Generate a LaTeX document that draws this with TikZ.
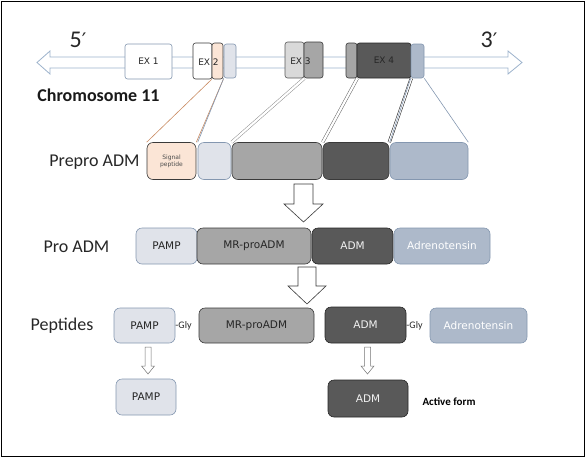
\documentclass[tikz,border=0pt]{standalone}
\usepackage{fontspec}
\setmainfont{Carlito}
\newfontfamily\boxfont{DejaVu Sans}
\usepackage{tikz}
\usetikzlibrary{backgrounds}

\definecolor{peach}{HTML}{FBE5D6}
\definecolor{paleblue}{HTML}{E0E3EA}
\definecolor{midgray}{HTML}{A6A6A6}
\definecolor{darkgray}{HTML}{595959}
\definecolor{steel}{HTML}{ADB9CA}
\definecolor{steelline}{HTML}{8497B0}
\definecolor{geneline}{HTML}{9DB3CC}
\definecolor{edgedark}{HTML}{3A3A3A}
\definecolor{txtdark}{HTML}{262626}
\definecolor{orangeline}{HTML}{C98B62}

\begin{document}
\begin{tikzpicture}[x=1pt,y=-1pt,
  exon/.style={draw=edgedark, rounded corners=2.5pt, inner sep=0pt, line width=0.6pt,
    font=\boxfont\fontsize{9}{10}\selectfont, text=txtdark},
  part/.style={draw=edgedark, rounded corners=6pt, inner sep=0pt, line width=0.6pt,
    font=\boxfont\fontsize{10.5}{12}\selectfont, text=txtdark},
  rowlabel/.style={font=\fontsize{18}{20}\selectfont, text=black!85},
  endlabel/.style={font=\fontsize{24}{26}\selectfont, text=black!85},
  hollow/.style={draw=edgedark, fill=white, line width=0.6pt},
  thinhollow/.style={draw=black!55, fill=white, line width=0.5pt},
  twin/.style={double=white, double distance=2.2pt, line width=0.5pt}]
\useasboundingbox (0,0) rectangle (588,458);
\draw[line width=1pt] (1,1) rectangle (584.5,456.5);

\draw[geneline, fill=white, line width=0.8pt] (37,62.5) -- (50,51) -- (50,57) -- (508,57) -- (508,51) -- (522,62.5) -- (508,74) -- (508,68) -- (50,68) -- (50,74) -- cycle;

\node[endlabel] (five) at (78,40) {5{\boxfont\fontsize{20}{22}\selectfont ′}};
\node[endlabel] (three) at (489,40) {3{\boxfont\fontsize{20}{22}\selectfont ′}};
\node[font=\bfseries\fontsize{18}{20}\selectfont, text=black!90] (chrom) at (98.5,95) {Chromosome 11};

\node[exon, draw=steelline, fill=white, minimum width=47, minimum height=35] (exOne) at (148.5,61.5) {EX 1};
\node[exon, fill=white, minimum width=19, minimum height=36] (exTwoA) at (202.5,61) {};
\node[exon, fill=peach, minimum width=11, minimum height=36] (exTwoB) at (217.5,61) {};
\node[exon, draw=steelline, fill=paleblue, minimum width=12, minimum height=34] (exUtr) at (230,61) {};
\node[exon, draw=darkgray, fill=black!15, minimum width=19, minimum height=36] (exThreeA) at (294.5,60) {};
\node[exon, fill=midgray, minimum width=19, minimum height=36] (exThreeB) at (313.5,60) {};
\node[exon, fill=midgray, minimum width=11, minimum height=35] (exFourA) at (351.5,60.5) {};
\node[exon, fill=darkgray, draw=black!85, minimum width=54, minimum height=35] (exFourB) at (384,60.5) {EX 4};
\node[exon, draw=steelline, fill=steel, minimum width=13, minimum height=34] (exFourC) at (417.5,61) {};
\node[font=\boxfont\fontsize{9}{10}\selectfont, text=txtdark, inner sep=0pt] (exTwoTxt) at (208.5,62) {EX 2};
\node[font=\boxfont\fontsize{9}{10}\selectfont, text=txtdark, inner sep=0pt] (exThreeTxt) at (300.5,61) {EX 3};

\node[rowlabel] (prepro) at (94.5,162) {Prepro ADM};
\node[part, fill=peach, minimum width=49, minimum height=37, align=center,
  font=\boxfont\fontsize{6}{7}\selectfont, text=black!70] (sigpep) at (171.5,161) {Signal\\peptide};
\node[part, draw=steelline, fill=paleblue, minimum width=33, minimum height=37] (ppTwo) at (214.5,161) {};
\node[part, fill=midgray, minimum width=90, minimum height=37] (ppThree) at (277,161) {};
\node[part, fill=darkgray, minimum width=66, minimum height=37] (ppFour) at (356,161) {};
\node[part, draw=steelline, fill=steel, minimum width=78, minimum height=37] (ppFive) at (429,161) {};

\begin{scope}[on background layer]
\draw[orangeline, line width=0.6pt] (exTwoB.south west) -- (sigpep.north west);
\draw[orangeline, line width=0.6pt] (exTwoB.south east) -- (sigpep.north east);
\draw[steelline, line width=0.6pt] (exUtr.south west) -- (ppTwo.north west);
\draw[twin, draw=black!45] (exThreeA.south east) -- (ppThree.north west);
\draw[twin, draw=black!60] (exFourA.south east) -- (ppFour.north west);
\draw[twin, draw=black!90] (exFourB.south east) -- (ppFour.north east);
\draw[steelline, line width=0.6pt] (exFourC.south west) -- (ppFive.north west);
\draw[steelline, line width=0.6pt] (exFourC.south east) -- (ppFive.north east);
\end{scope}

\draw[hollow] (294,184) -- (313,184) -- (313,204) -- (323,204) -- (303.5,222) -- (284,204) -- (294,204) -- cycle;

\node[rowlabel] (pro) at (76.5,247) {Pro ADM};
\node[part, draw=steelline, fill=paleblue, minimum width=61, minimum height=36] (proPamp) at (166.5,246) {PAMP};
\node[part, fill=midgray, minimum width=114, minimum height=36] (proMr) at (254,246) {MR-proADM};
\node[part, fill=darkgray, draw=black!85, text=white!95!black, minimum width=81, minimum height=36] (proAdm) at (352.5,246) {ADM};
\node[part, draw=steelline, fill=steel, text=white, minimum width=96, minimum height=36] (proAdt) at (442,246) {Adrenotensin};

\draw[hollow] (298,267) -- (316,267) -- (316,286) -- (326,286) -- (307,304) -- (288,286) -- (298,286) -- cycle;

\node[rowlabel] (pep) at (62,326) {Peptides};
\node[part, draw=steelline, fill=paleblue, minimum width=61, minimum height=35] (pepPamp) at (144.5,325.5) {PAMP};
\node[font=\fontsize{10}{12}\selectfont, text=txtdark, inner sep=0pt] (glyOne) at (183.5,326) {-Gly};
\node[part, fill=midgray, minimum width=115, minimum height=35] (pepMr) at (256.5,325.5) {MR-proADM};
\node[part, fill=darkgray, draw=black!85, text=white!95!black, minimum width=81, minimum height=36] (pepAdm) at (365.5,325) {ADM};
\node[font=\fontsize{10}{12}\selectfont, text=txtdark, inner sep=0pt] (glyTwo) at (414.5,326) {-Gly};
\node[part, draw=steelline, fill=steel, text=white, minimum width=97, minimum height=35] (pepAdt) at (478.5,325.5) {Adrenotensin};

\draw[thinhollow] (145,347) -- (151,347) -- (151,366) -- (154.5,366) -- (148,374) -- (141.5,366) -- (145,366) -- cycle;
\draw[thinhollow] (364.5,347) -- (370.5,347) -- (370.5,366) -- (374,366) -- (367.5,374) -- (361,366) -- (364.5,366) -- cycle;

\node[part, draw=steelline, fill=paleblue, minimum width=60, minimum height=36] (endPamp) at (146,397) {PAMP};
\node[part, fill=darkgray, draw=black!85, text=white!95!black, minimum width=80, minimum height=37] (endAdm) at (368,398.5) {ADM};
\node[font=\bfseries\fontsize{11}{13}\selectfont, text=black] (active) at (449,402) {Active form};
\end{tikzpicture}
\end{document}
